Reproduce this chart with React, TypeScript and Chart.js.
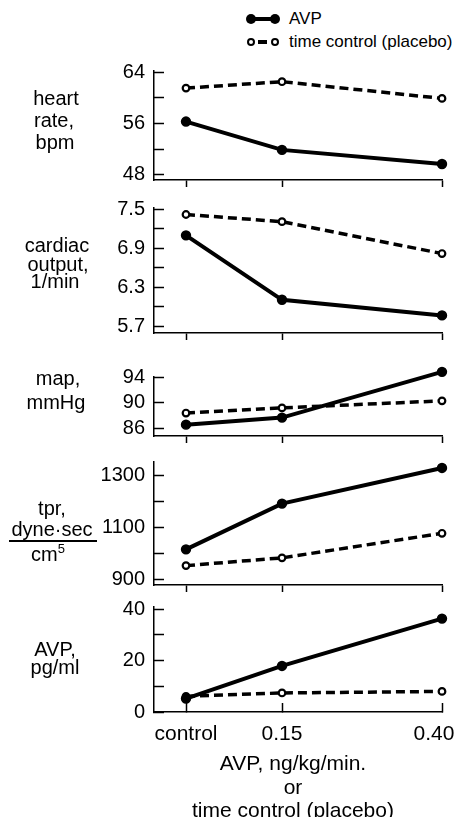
import React, { useEffect, useRef } from 'react';
import { Chart, registerables } from 'chart.js';

Chart.register(...registerables);

// ---------- data ----------
const doses = [0, 0.15, 0.4];
const doseLabels = ['control', '0.15', '0.40'];
const seriesNames = ['AVP', 'time control (placebo)'];

const heartRateAVP = [56.3, 51.9, 49.7];
const heartRatePlacebo = [61.5, 62.5, 59.9];
const cardiacOutputAVP = [7.1, 6.11, 5.87];
const cardiacOutputPlacebo = [7.42, 7.31, 6.82];
const mapAVP = [86.6, 87.7, 94.8];
const mapPlacebo = [88.4, 89.2, 90.3];
const tprAVP = [1016, 1193, 1331];
const tprPlacebo = [953, 983, 1078];
const plasmaAVP = [5.2, 17.9, 36.3];
const plasmaPlacebo = [6.1, 7.4, 8.0];

const heartRateTicks = [48, 52, 56, 60, 64];
const heartRateTickLabels = ['48', '', '56', '', '64'];
const cardiacOutputTicks = [5.7, 6.0, 6.3, 6.6, 6.9, 7.2, 7.5];
const cardiacOutputTickLabels = ['5.7', '', '6.3', '', '6.9', '', '7.5'];
const mapTicks = [86, 90, 94];
const mapTickLabels = ['86', '90', '94'];
const tprTicks = [900, 1000, 1100, 1200, 1300];
const tprTickLabels = ['900', '', '1100', '', '1300'];
const plasmaTicks = [0, 10, 20, 30, 40];
const plasmaTickLabels = ['0', '', '20', '', '40'];

const xTitleLines = ['AVP, ng/kg/min.', 'or', 'time control (placebo)'];

// ---------- layout ----------
const FONT = '"Liberation Sans", Arial, Helvetica, sans-serif';
const W = 460;
const AXIS_LEFT = 154;
const AXIS_RIGHT = 442;
const PAD_TOP = 14;

type PanelSpec = {
  avp: number[];
  placebo: number[];
  min: number;
  max: number;
  ticks: number[];
  tickLabels: string[];
  areaTop: number;
  areaBottom: number;
  isBottom: boolean;
};

const panels: PanelSpec[] = [
  { avp: heartRateAVP, placebo: heartRatePlacebo, min: 47.22, max: 64.16, ticks: heartRateTicks, tickLabels: heartRateTickLabels, areaTop: 71, areaBottom: 180, isBottom: false },
  { avp: cardiacOutputAVP, placebo: cardiacOutputPlacebo, min: 5.6, max: 7.52, ticks: cardiacOutputTicks, tickLabels: cardiacOutputTickLabels, areaTop: 208, areaBottom: 333, isBottom: false },
  { avp: mapAVP, placebo: mapPlacebo, min: 84.84, max: 94, ticks: mapTicks, tickLabels: mapTickLabels, areaTop: 377, areaBottom: 436, isBottom: false },
  { avp: tprAVP, placebo: tprPlacebo, min: 878, max: 1354, ticks: tprTicks, tickLabels: tprTickLabels, areaTop: 462, areaBottom: 585, isBottom: false },
  { avp: plasmaAVP, placebo: plasmaPlacebo, min: 0, max: 40.8, ticks: plasmaTicks, tickLabels: plasmaTickLabels, areaTop: 607, areaBottom: 712, isBottom: true },
];

// keeps the last x tick label ("0.40") inside the page, as in the original
const lastLabelNudge = {
  id: 'lastLabelNudge',
  beforeDraw(chart: any) {
    const sx = chart.scales.x;
    if (!sx || !sx.options.ticks.display) return;
    const items = sx.getLabelItems();
    if (items && items.length) {
      const last = items[items.length - 1];
      if (last.options && last.options.translation) {
        last.options.translation = [last.options.translation[0] - 8, last.options.translation[1]];
      }
    }
  },
};

function PanelChart({ p }: { p: PanelSpec }) {
  const ref = useRef<HTMLCanvasElement>(null);
  const hx = p.isBottom ? 50 : 16;
  const canvasTop = p.areaTop - PAD_TOP;
  const canvasH = PAD_TOP + (p.areaBottom - p.areaTop) + hx;

  useEffect(() => {
    if (!ref.current) return;
    const chart = new Chart(ref.current, {
      type: 'line',
      data: {
        datasets: [
          {
            label: seriesNames[0],
            data: doses.map((x, i) => ({ x, y: p.avp[i] })),
            borderColor: '#000',
            borderWidth: 4,
            pointRadius: 4.4,
            pointBackgroundColor: '#000',
            pointBorderColor: '#000',
            pointBorderWidth: 1.6,
            tension: 0,
            clip: false as any,
          },
          {
            label: seriesNames[1],
            data: doses.map((x, i) => ({ x, y: p.placebo[i] })),
            borderColor: '#000',
            borderWidth: 3.5,
            borderDash: [9, 5],
            pointRadius: 3.3,
            pointBackgroundColor: '#fff',
            pointBorderColor: '#000',
            pointBorderWidth: 2.2,
            tension: 0,
            clip: false as any,
          },
        ],
      },
      options: {
        animation: false,
        responsive: false,
        events: [],
        layout: { padding: { top: PAD_TOP, left: 0, right: W - AXIS_RIGHT, bottom: 0 } },
        plugins: { legend: { display: false }, tooltip: { enabled: false } },
        scales: {
          x: {
            type: 'linear',
            position: 'bottom',
            min: -0.05,
            max: 0.4,
            afterBuildTicks: (s: any) => {
              s.ticks = doses.map((v) => ({ value: v }));
            },
            afterFit: (s: any) => {
              s.height = hx;
              s.paddingLeft = 0;
              s.paddingRight = 0;
            },
            border: { display: true, color: '#000', width: 1.5 },
            grid: {
              display: true,
              drawOnChartArea: false,
              drawTicks: true,
              tickLength: p.isBottom ? -9 : 7,
              tickWidth: 1.5,
              tickColor: '#000',
            },
            ticks: {
              display: p.isBottom,
              padding: 19,
              autoSkip: false,
              maxRotation: 0,
              color: '#000',
              font: { family: FONT, size: 21 },
              callback: (_v: any, i: number) => doseLabels[i],
            },
          },
          y: {
            type: 'linear',
            min: p.min,
            max: p.max,
            afterBuildTicks: (s: any) => {
              s.ticks = p.ticks.map((v) => ({ value: v }));
            },
            afterFit: (s: any) => {
              s.width = AXIS_LEFT;
              s.paddingTop = 0;
              s.paddingBottom = 0;
            },
            border: { display: true, color: '#000', width: 1.5 },
            grid: {
              display: true,
              drawOnChartArea: false,
              drawTicks: true,
              tickLength: -10,
              tickWidth: 1.5,
              tickColor: '#000',
            },
            ticks: {
              padding: 19,
              autoSkip: false,
              color: '#000',
              font: { family: FONT, size: 20 },
              callback: (_v: any, i: number) => p.tickLabels[i],
            },
          },
        },
      } as any,
      plugins: [lastLabelNudge],
    });
    return () => chart.destroy();
  }, []);

  return (
    <canvas
      ref={ref}
      width={W}
      height={canvasH}
      style={{ position: 'absolute', left: 0, top: canvasTop, width: W, height: canvasH, display: 'block' }}
    />
  );
}

type Line = [string, number, number];

const labelLines: Line[] = [
  ['heart', 56, 98],
  ['rate,', 54, 120],
  ['bpm', 55, 142],
  ['cardiac', 57, 245],
  ['output,', 58, 264],
  ['1/min', 55, 281],
  ['map,', 58, 378],
  ['mmHg', 56, 402],
  ['tpr,', 52, 508],
  ['dyne\u00b7sec', 52, 529],
  ['AVP,', 55, 649],
  ['pg/ml', 55, 667],
];

function TextLine({ text, cx, cy, size }: { text: React.ReactNode; cx: number; cy: number; size: number }) {
  return (
    <div
      style={{
        position: 'absolute',
        left: cx - 120,
        width: 240,
        top: cy - 12,
        height: 24,
        lineHeight: '24px',
        fontSize: size,
        textAlign: 'center',
        whiteSpace: 'nowrap',
        color: '#000',
      }}
    >
      {text}
    </div>
  );
}

function LegendRow({ y, filled, text }: { y: number; filled: boolean; text: string }) {
  const x1 = 251;
  const x2 = 275;
  const r = filled ? 5 : 4.3;
  const circle = (cx: number) => (
    <div
      style={{
        position: 'absolute',
        left: cx - r,
        top: y - r,
        width: r * 2,
        height: r * 2,
        boxSizing: 'border-box',
        borderRadius: '50%',
        background: filled ? '#000' : '#fff',
        border: filled ? 'none' : '2.2px solid #000',
      }}
    />
  );
  return (
    <>
      {filled ? (
        <div style={{ position: 'absolute', left: x1, top: y - 2, width: x2 - x1, height: 4, background: '#000' }} />
      ) : (
        <div style={{ position: 'absolute', left: 258, top: y - 1.75, width: 9, height: 3.5, background: '#000' }} />
      )}
      {circle(x1)}
      {circle(x2)}
      <div
        style={{
          position: 'absolute',
          left: 289,
          top: y - 10,
          height: 20,
          lineHeight: '20px',
          fontSize: 17,
          whiteSpace: 'nowrap',
          color: '#000',
        }}
      >
        {text}
      </div>
    </>
  );
}

export default function App() {
  return (
    <div
      style={{
        position: 'absolute',
        left: 0,
        top: 0,
        width: W,
        height: 817,
        overflow: 'hidden',
        background: '#fff',
        fontFamily: FONT,
      }}
    >
      {panels.map((p, i) => (
        <PanelChart key={i} p={p} />
      ))}
      <LegendRow y={19} filled={true} text={seriesNames[0]} />
      <LegendRow y={42} filled={false} text={seriesNames[1]} />
      {labelLines.map(([t, cx, cy], i) => (
        <TextLine key={i} text={t} cx={cx} cy={cy} size={20} />
      ))}
      <div style={{ position: 'absolute', left: 9, top: 540, width: 88, height: 2, background: '#000' }} />
      <TextLine
        text={
          <span>
            cm<span style={{ position: 'relative', top: -8, fontSize: 13 }}>5</span>
          </span>
        }
        cx={48}
        cy={554}
        size={20}
      />
      {xTitleLines.map((t, i) => (
        <TextLine key={'x' + i} text={t} cx={293} cy={763 + i * 23.5} size={21} />
      ))}
    </div>
  );
}
